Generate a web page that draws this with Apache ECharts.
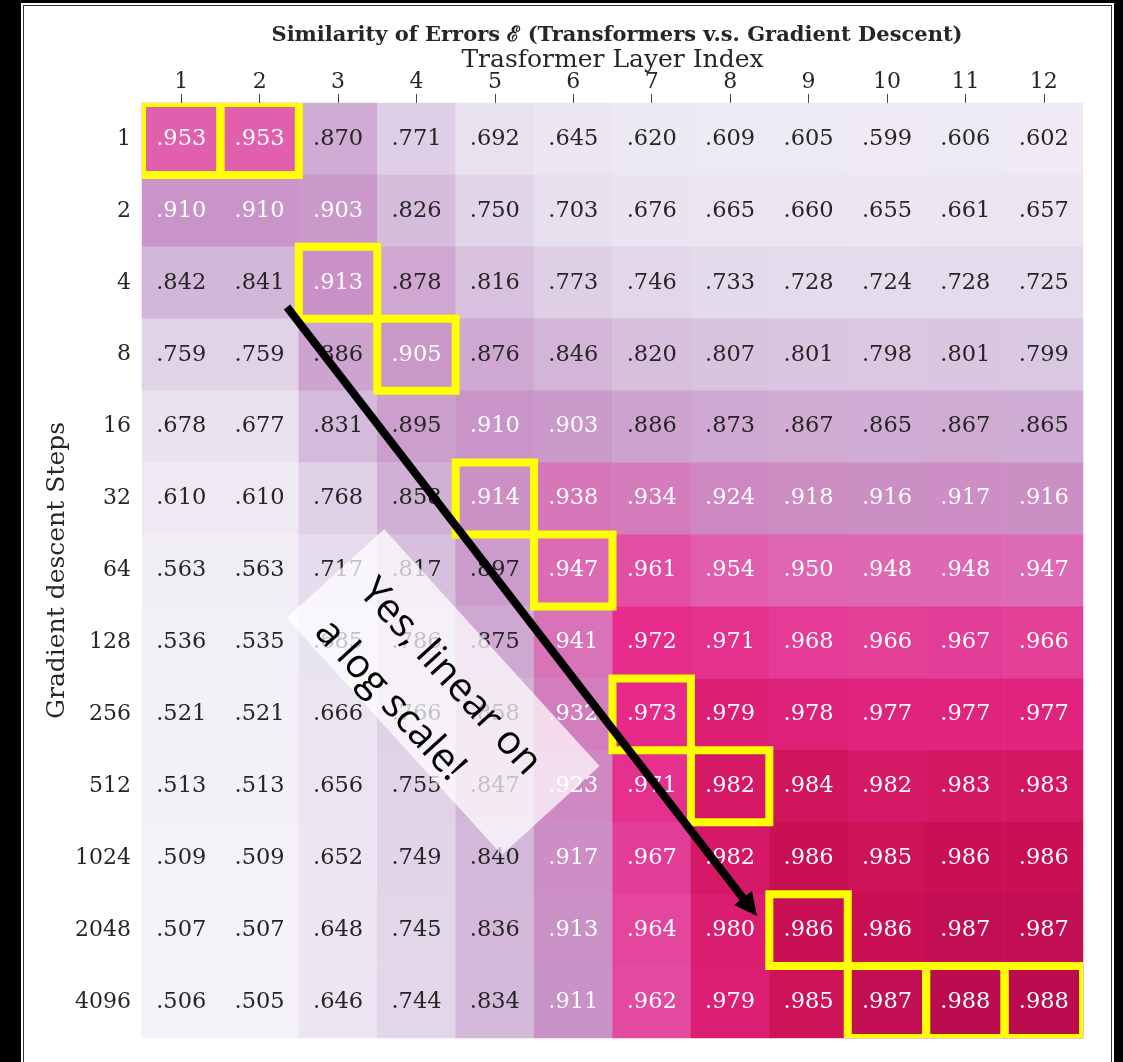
<!DOCTYPE html>
<html>
<head>
<meta charset="utf-8">
<script src="https://cdn.jsdelivr.net/npm/echarts@6/dist/echarts.min.js"></script>
<style>
  html, body { margin: 0; padding: 0; background: #000; width: 1123px; height: 1062px; overflow: hidden; }
  #frame { position: absolute; left: 21px; top: 3px; width: 1093px; height: 1100px; background: #fff; }
  #frame:after { content: ''; position: absolute; left: 2px; top: 2px; right: 2px; bottom: 2px; border: 1px solid #333; }
  #chart { position: absolute; left: 0; top: 0; width: 1123px; height: 1062px; }
</style>
</head>
<body>
<div id="frame"></div>
<div id="chart"></div>
<script>
// layer index (columns) and gradient descent steps (rows)
const layers = ['1', '2', '3', '4', '5', '6', '7', '8', '9', '10', '11', '12'];
const steps = ['1', '2', '4', '8', '16', '32', '64', '128', '256', '512', '1024', '2048', '4096'];

// similarity per row (steps) x column (layer)
const sim1 = [0.953, 0.953, 0.870, 0.771, 0.692, 0.645, 0.620, 0.609, 0.605, 0.599, 0.606, 0.602];
const sim2 = [0.910, 0.910, 0.903, 0.826, 0.750, 0.703, 0.676, 0.665, 0.660, 0.655, 0.661, 0.657];
const sim4 = [0.842, 0.841, 0.913, 0.878, 0.816, 0.773, 0.746, 0.733, 0.728, 0.724, 0.728, 0.725];
const sim8 = [0.759, 0.759, 0.886, 0.905, 0.876, 0.846, 0.820, 0.807, 0.801, 0.798, 0.801, 0.799];
const sim16 = [0.678, 0.677, 0.831, 0.895, 0.910, 0.903, 0.886, 0.873, 0.867, 0.865, 0.867, 0.865];
const sim32 = [0.610, 0.610, 0.768, 0.858, 0.914, 0.938, 0.934, 0.924, 0.918, 0.916, 0.917, 0.916];
const sim64 = [0.563, 0.563, 0.717, 0.817, 0.897, 0.947, 0.961, 0.954, 0.950, 0.948, 0.948, 0.947];
const sim128 = [0.536, 0.535, 0.685, 0.786, 0.875, 0.941, 0.972, 0.971, 0.968, 0.966, 0.967, 0.966];
const sim256 = [0.521, 0.521, 0.666, 0.766, 0.858, 0.932, 0.973, 0.979, 0.978, 0.977, 0.977, 0.977];
const sim512 = [0.513, 0.513, 0.656, 0.755, 0.847, 0.923, 0.971, 0.982, 0.984, 0.982, 0.983, 0.983];
const sim1024 = [0.509, 0.509, 0.652, 0.749, 0.840, 0.917, 0.967, 0.982, 0.986, 0.985, 0.986, 0.986];
const sim2048 = [0.507, 0.507, 0.648, 0.745, 0.836, 0.913, 0.964, 0.980, 0.986, 0.986, 0.987, 0.987];
const sim4096 = [0.506, 0.505, 0.646, 0.744, 0.834, 0.911, 0.962, 0.979, 0.985, 0.987, 0.988, 0.988];
const rows = [sim1, sim2, sim4, sim8, sim16, sim32, sim64, sim128, sim256, sim512, sim1024, sim2048, sim4096];

// best step per layer: [layer index, step index]
const best = [[0, 0], [1, 0], [2, 2], [3, 3], [4, 5], [5, 6], [6, 8], [7, 9], [8, 11], [9, 12], [10, 12], [11, 12]];

const purd = ['#f7f4f9', '#e7e1ef', '#d4b9da', '#c994c7', '#df65b0', '#e7298a', '#ce1256', '#980043', '#67001f'];
const serif = 'DejaVu Serif';

const cells = [];
rows.forEach((r, yi) => {
  r.forEach((v, xi) => {
    cells.push({
      value: [xi, yi, v, -Math.log10(1 - v)],
      label: { color: v >= 0.9 ? '#ffffff' : '#262626' }
    });
  });
});

const chart = echarts.init(document.getElementById('chart'));

const option = {
  backgroundColor: 'transparent',
  animation: false,
  title: {
    text: 'Similarity of Errors \u2130 (Transformers v.s. Gradient Descent)',
    left: 612,
    top: 20,
    textAlign: 'center',
    textStyle: { fontFamily: serif, fontSize: 21, fontWeight: 'bold', color: '#262626' }
  },
  grid: { left: 142, top: 103, width: 941, height: 935 },
  xAxis: {
    type: 'category',
    position: 'top',
    data: layers,
    name: 'Trasformer Layer Index',
    nameLocation: 'middle',
    nameGap: 30,
    nameMoveOverlap: false,
    nameTextStyle: { fontFamily: serif, fontSize: 25, color: '#262626' },
    axisLine: { show: false },
    axisTick: { show: true, alignWithLabel: true, length: 9, lineStyle: { color: '#444' } },
    axisLabel: { margin: 10, fontFamily: serif, fontSize: 22, color: '#262626' },
    splitLine: { show: false }
  },
  yAxis: {
    type: 'category',
    inverse: true,
    data: steps,
    name: 'Gradient descent Steps',
    nameLocation: 'middle',
    nameGap: 72,
    nameMoveOverlap: false,
    nameTextStyle: { fontFamily: serif, fontSize: 25, color: '#262626' },
    axisLine: { show: false },
    axisTick: { show: false },
    axisLabel: { margin: 11, fontFamily: serif, fontSize: 22, color: '#262626' },
    splitLine: { show: false }
  },
  visualMap: {
    show: false,
    type: 'continuous',
    dimension: 3,
    min: 0.264,
    max: 2.35,
    inRange: { color: purd }
  },
  series: [
    {
      type: 'heatmap',
      data: cells,
      label: {
        show: true,
        fontFamily: serif,
        fontSize: 22.5,
        formatter: p => p.value[2].toFixed(3).slice(1)
      },
      emphasis: { disabled: true }
    },
    {
      type: 'custom',
      clip: true,
      z: 5,
      data: best,
      renderItem: (params, api) => {
        const c = api.coord([api.value(0), api.value(1)]);
        const s = api.size([1, 1]);
        return {
          type: 'rect',
          shape: { x: c[0] - s[0] / 2, y: c[1] - s[1] / 2, width: s[0], height: s[1] },
          style: { fill: 'none', stroke: '#ffff00', lineWidth: 8 }
        };
      }
    }
  ],
  graphic: [
    {
      type: 'line',
      z: 100,
      shape: { x1: 287, y1: 307, x2: 746, y2: 902 },
      style: { stroke: '#000', lineWidth: 8 }
    },
    {
      type: 'polygon',
      z: 100,
      shape: { points: [[757, 916], [734, 905], [752, 891]] },
      style: { fill: '#000' }
    },
    {
      type: 'group',
      x: 443,
      y: 692,
      rotation: -47.7 * Math.PI / 180,
      children: [
        {
          type: 'rect',
          z: 100,
          shape: { x: -160, y: -66, width: 320, height: 132 },
          style: { fill: 'rgba(255,255,255,0.72)' }
        },
        {
          type: 'text',
          z: 101,
          x: -131,
          y: 15,
          style: {
            text: 'Yes, linear on\na log scale!',
            fontFamily: 'Open Sans',
            fontSize: 40,
            lineHeight: 60,
            align: 'left',
            verticalAlign: 'middle',
            fill: '#000'
          }
        }
      ]
    }
  ]
};

chart.setOption(option);
</script>
</body>
</html>
